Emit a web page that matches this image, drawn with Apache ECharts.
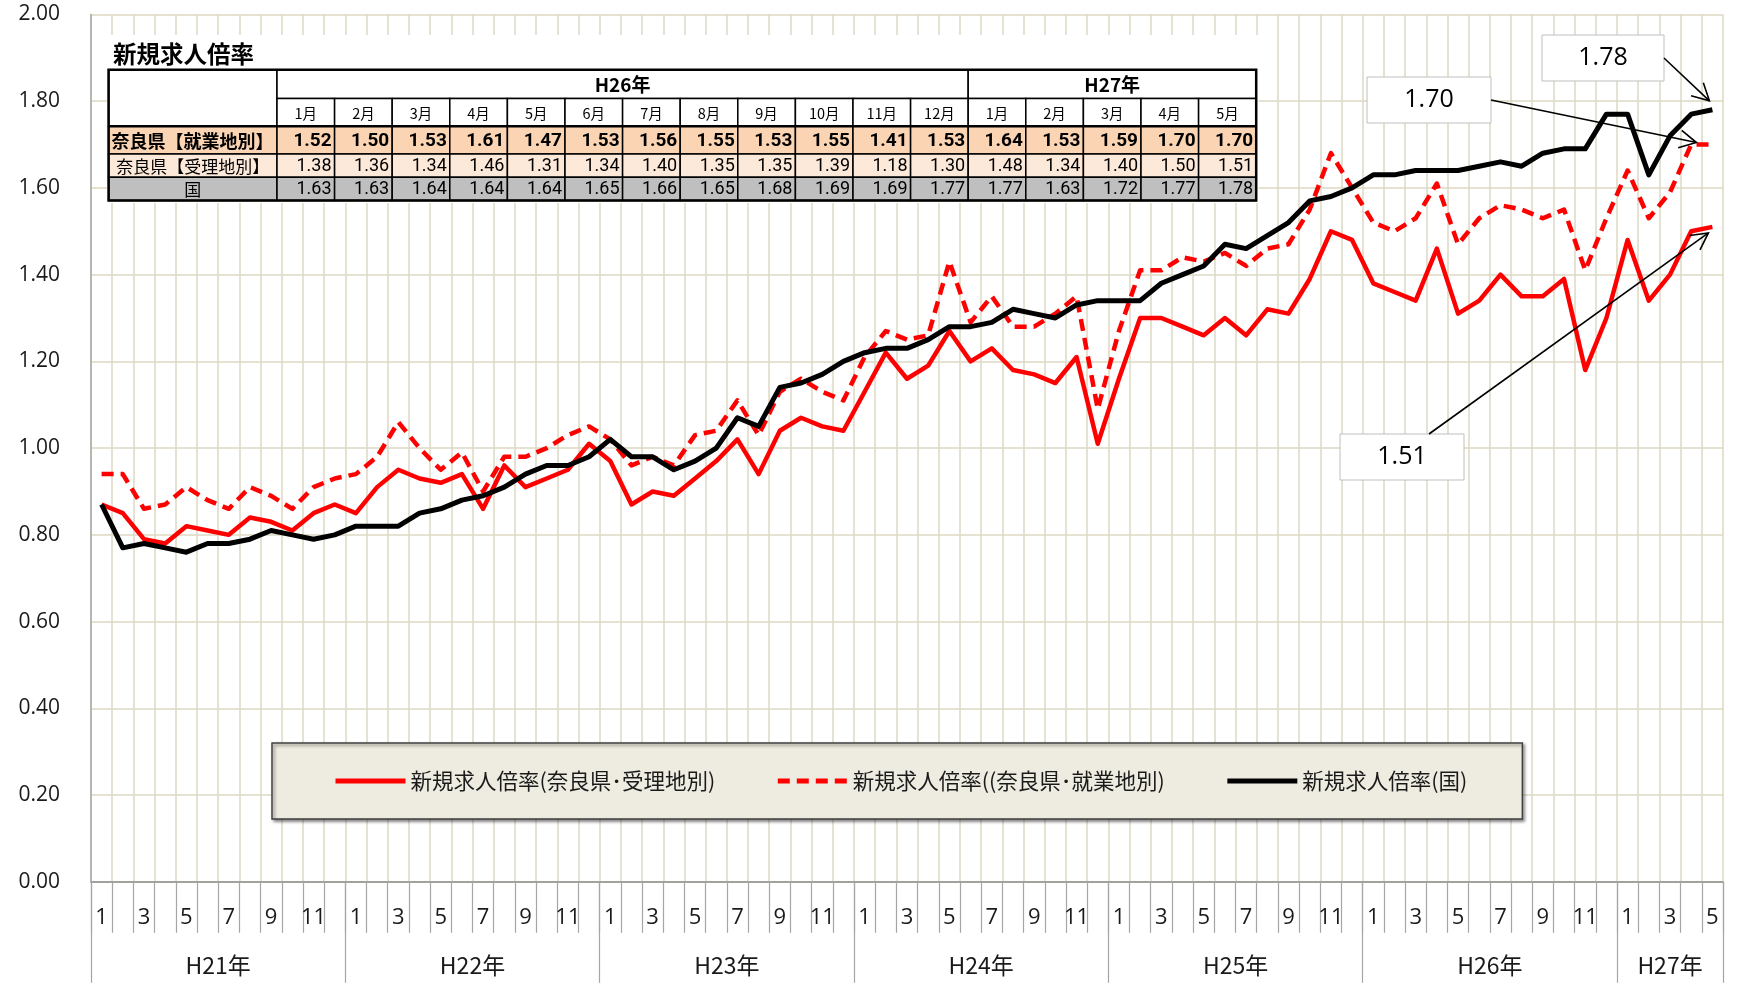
<!DOCTYPE html>
<html><head><meta charset="utf-8">
<script src="https://cdn.jsdelivr.net/npm/echarts@6/dist/echarts.min.js"></script>
<style>html,body{margin:0;padding:0;background:#fff}#c{width:1737px;height:983px}</style>
</head><body><div id="c"></div>
<script>
// ---------- DATA ----------
const years = ['H21年','H22年','H23年','H24年','H25年','H26年','H27年'];
const monthsPerYear = [12,12,12,12,12,12,5];
const seriesNames = ['新規求人倍率(奈良県･受理地別)','新規求人倍率((奈良県･就業地別)','新規求人倍率(国)'];
// 奈良県【受理地別】
const juriRate = [
  0.87,0.85,0.79,0.78,0.82,0.81,0.80,0.84,0.83,0.81,0.85,0.87,
  0.85,0.91,0.95,0.93,0.92,0.94,0.86,0.96,0.91,0.93,0.95,1.01,
  0.97,0.87,0.90,0.89,0.93,0.97,1.02,0.94,1.04,1.07,1.05,1.04,
  1.13,1.22,1.16,1.19,1.27,1.20,1.23,1.18,1.17,1.15,1.21,1.01,
  1.16,1.30,1.30,1.28,1.26,1.30,1.26,1.32,1.31,1.39,1.50,1.48,
  1.38,1.36,1.34,1.46,1.31,1.34,1.40,1.35,1.35,1.39,1.18,1.30,
  1.48,1.34,1.40,1.50,1.51];
// 奈良県【就業地別】
const shugyoRate = [
  0.94,0.94,0.86,0.87,0.91,0.88,0.86,0.91,0.89,0.86,0.91,0.93,
  0.94,0.98,1.06,1.00,0.95,0.99,0.90,0.98,0.98,1.00,1.03,1.05,
  1.02,0.96,0.98,0.96,1.03,1.04,1.11,1.03,1.13,1.16,1.13,1.11,
  1.21,1.27,1.25,1.26,1.43,1.29,1.35,1.28,1.28,1.31,1.35,1.09,
  1.27,1.41,1.41,1.44,1.43,1.45,1.42,1.46,1.47,1.55,1.68,1.60,
  1.52,1.50,1.53,1.61,1.47,1.53,1.56,1.55,1.53,1.55,1.41,1.53,
  1.64,1.53,1.59,1.70,1.70];
// 国
const kuniRate = [
  0.87,0.77,0.78,0.77,0.76,0.78,0.78,0.79,0.81,0.80,0.79,0.80,
  0.82,0.82,0.82,0.85,0.86,0.88,0.89,0.91,0.94,0.96,0.96,0.98,
  1.02,0.98,0.98,0.95,0.97,1.00,1.07,1.05,1.14,1.15,1.17,1.20,
  1.22,1.23,1.23,1.25,1.28,1.28,1.29,1.32,1.31,1.30,1.33,1.34,
  1.34,1.34,1.38,1.40,1.42,1.47,1.46,1.49,1.52,1.57,1.58,1.60,
  1.63,1.63,1.64,1.64,1.64,1.65,1.66,1.65,1.68,1.69,1.69,1.77,
  1.77,1.63,1.72,1.77,1.78];
const yTicks = [0,0.2,0.4,0.6,0.8,1.0,1.2,1.4,1.6,1.8,2.0];
// table
const tableTitle = '新規求人倍率';
const tableYears = ['H26年','H27年'];
const tableYearSpan = [12,5];
const tableMonths = ['1月','2月','3月','4月','5月','6月','7月','8月','9月','10月','11月','12月','1月','2月','3月','4月','5月'];
const rowLabels = ['奈良県【就業地別】','奈良県【受理地別】','国'];

// ---------- derived ----------
const categories = [], catMonth = [], catYear = [];
const yearStarts = [], yearLabelIdx = [], yearEven = {};
let idx = 0;
years.forEach((y, k) => {
  const n = monthsPerYear[k];
  yearStarts.push(idx);
  const li = idx + (n % 2 === 0 ? n / 2 - 1 : (n - 1) / 2);
  yearLabelIdx.push(li); yearEven[li] = (n % 2 === 0);
  for (let m = 1; m <= n; m++) { categories.push(y + m + '月'); catMonth.push(m); catYear.push(y); idx++; }
});
const NCAT = categories.length;

const FONT_NUM = "'Open Sans','Noto Sans',sans-serif";
const FONT_JP = "'Noto Sans CJK JP','Noto Sans',sans-serif";
const FONT_TBL = "'Liberation Sans Narrow','Roboto','Noto Sans',sans-serif";
const GRIDC = '#DDD9C3';

const chart = echarts.init(document.getElementById('c'), null, {renderer: 'canvas'});
const option = {
  animation: false,
  backgroundColor: '#ffffff',
  grid: {left: 91, right: 14, top: 14.4, bottom: 101.2, containLabel: false},
  xAxis: [{
    type: 'category', data: categories, boundaryGap: true,
    axisLine: {show: true, lineStyle: {color: '#8C8C8C', width: 1.5}},
    axisTick: {show: true, interval: 0, length: 51, lineStyle: {color: '#A6A6A6', width: 1.2}},
    axisLabel: {interval: 1, formatter: (v, i) => String(catMonth[i]), fontSize: 22, fontFamily: FONT_NUM, color: '#1a1a1a', margin: 25},
    splitLine: {show: true, interval: 0, lineStyle: {color: GRIDC, width: 1.5}}
  }, {
    type: 'category', data: categories, boundaryGap: true, position: 'bottom', gridIndex: 0,
    axisLine: {show: false},
    axisTick: {show: true, interval: (i) => yearStarts.indexOf(i) >= 0, length: 101, lineStyle: {color: '#A6A6A6', width: 1.2}},
    axisLabel: {
      interval: (i) => yearLabelIdx.indexOf(i) >= 0,
      formatter: (v, i) => (yearEven[i] ? '{f|' : '{p|') + catYear[i] + '}',
      margin: 72,
      rich: {
        f: {fontSize: 23, fontFamily: FONT_JP, color: '#1a1a1a', padding: [0, 0, 0, 21.2]},
        p: {fontSize: 23, fontFamily: FONT_JP, color: '#1a1a1a'}
      }
    },
    splitLine: {show: false}
  }],
  yAxis: {
    type: 'value', min: yTicks[0], max: yTicks[yTicks.length - 1], interval: 0.2,
    axisLine: {show: true, lineStyle: {color: '#A6A6A6', width: 1.5}},
    axisTick: {show: false},
    axisLabel: {formatter: v => v.toFixed(2), fontSize: 21, fontFamily: FONT_NUM, color: '#1a1a1a', margin: 31},
    splitLine: {show: true, lineStyle: {color: GRIDC, width: 1.5}}
  },
  legend: {
    left: 272, top: 743, orient: 'horizontal',
    padding: [27, 55, 27, 61], itemGap: 60, itemWidth: 70, itemHeight: 6,
    backgroundColor: '#EEECE1', borderColor: '#404040', borderWidth: 1.5,
    shadowColor: 'rgba(0,0,0,0.45)', shadowBlur: 3, shadowOffsetX: 2, shadowOffsetY: 2,
    lineStyle: {width: 5},
    itemStyle: {opacity: 0},
    textStyle: {fontSize: 21.5, fontFamily: FONT_JP, color: '#1a1a1a', lineHeight: 22},
    data: seriesNames
  },
  series: [{
    name: seriesNames[0], type: 'line', data: juriRate, symbol: 'none', z: 2,
    lineStyle: {color: '#FF0000', width: 4.5, join: 'round'}, itemStyle: {color: '#FF0000'}
  }, {
    name: seriesNames[1], type: 'line', data: shugyoRate, symbol: 'none', z: 3,
    lineStyle: {color: '#FF0000', width: 4.5, type: [12, 7], join: 'round'}, itemStyle: {color: '#FF0000'}
  }, {
    name: seriesNames[2], type: 'line', data: kuniRate, symbol: 'none', z: 4,
    lineStyle: {color: '#000000', width: 5, join: 'round'}, itemStyle: {color: '#000000'}
  }]
};
chart.setOption(option);

// ---------- table + annotations (graphic) ----------
const g = [];
function rect(x, y, w, h, fill, stroke, lw, z) {
  g.push({type: 'rect', silent: true, z: z || 100, shape: {x: x, y: y, width: w, height: h},
    style: {fill: fill, stroke: stroke || null, lineWidth: lw || 0}});
}
function text(x, y, t, font, align, z) {
  g.push({type: 'text', silent: true, z: z || 102, x: x, y: y,
    style: {text: t, font: font, fill: '#000', align: align || 'center', verticalAlign: 'middle',
      textAlign: align || 'center', textVerticalAlign: 'middle'}});
}
const TX = 108.6, TY = 69.8, C0 = 168.4, CW = 57.6;
const RH = [28.8, 27.7, 27.7, 23.3, 23.2];
const rowY = [TY]; RH.forEach((h, i) => rowY.push(rowY[i] + h));
const TW = C0 + CW * tableMonths.length;
rect(107, 35, TW + 4, rowY[5] - 35 + 2.5, '#ffffff', null, 0, 99);
text(113, 54.5, tableTitle, 'bold 23.5px ' + FONT_JP, 'left');
// header
rect(TX, rowY[0], C0, RH[0] + RH[1], '#ffffff', '#000', 1.5);
let cx = TX + C0;
tableYears.forEach((y, k) => {
  const w = tableYearSpan[k] * CW;
  rect(cx, rowY[0], w, RH[0], '#ffffff', '#000', 1.5);
  text(cx + w / 2, rowY[0] + RH[0] / 2 + 1, y, 'bold 19px ' + FONT_JP);
  cx += w;
});
tableMonths.forEach((m, k) => {
  const x = TX + C0 + k * CW;
  rect(x, rowY[1], CW, RH[1], '#ffffff', '#000', 1.5);
  text(x + CW / 2, rowY[1] + RH[1] / 2 + 1, m, '14.5px ' + FONT_JP);
});
const tailN = tableMonths.length;
const rows = [
  {vals: shugyoRate.slice(-tailN), fill: '#FBD4B4', lf: 'bold 18px ' + FONT_JP, vf: 'bold 19px ' + FONT_TBL, la: 'left'},
  {vals: juriRate.slice(-tailN), fill: '#FDE9D9', lf: '17px ' + FONT_JP, vf: '18px ' + FONT_TBL, la: 'center'},
  {vals: kuniRate.slice(-tailN), fill: '#BFBFBF', lf: '17px ' + FONT_JP, vf: '18px ' + FONT_TBL, la: 'center'}
];
rows.forEach((r, ri) => {
  const y = rowY[2 + ri], h = RH[2 + ri];
  rect(TX, y, C0, h, r.fill, '#000', 1.5);
  text(r.la === 'left' ? TX + 3 : TX + C0 / 2, y + h / 2 + 1, rowLabels[ri], r.lf, r.la);
  r.vals.forEach((v, k) => {
    const x = TX + C0 + k * CW;
    rect(x, y, CW, h, r.fill, '#000', 1.5);
    text(x + CW - 3, y + h / 2 + 1, v.toFixed(2), r.vf, 'right');
  });
});
rect(TX, rowY[0], TW, rowY[5] - rowY[0], null, '#000', 2.5, 101);
g.push({type: 'line', silent: true, z: 101, shape: {x1: TX, y1: rowY[2], x2: TX + TW, y2: rowY[2]}, style: {stroke: '#000', lineWidth: 2.5}});

// callouts
const last = NCAT - 1;
const callouts = [
  {si: 2, arr: kuniRate,   box: [1542, 35, 122, 46],  from: [1664, 58],  off: [-3, -9]},
  {si: 1, arr: shugyoRate, box: [1367, 77, 124, 46],  from: [1491, 100], off: [-16, -2]},
  {si: 0, arr: juriRate,   box: [1340, 434, 124, 46], from: [1429, 434], off: [-4, 6]}
];
callouts.forEach(c => {
  const p = chart.convertToPixel({seriesIndex: c.si}, [last, c.arr[last]]);
  const tip = [p[0] + c.off[0], p[1] + c.off[1]];
  rect(c.box[0], c.box[1], c.box[2], c.box[3], '#ffffff', '#BFBFBF', 1, 110);
  text(c.box[0] + c.box[2] / 2, c.box[1] + c.box[3] / 2, c.arr[last].toFixed(2), '25px ' + FONT_NUM, 'center', 112);
  g.push({type: 'line', silent: true, z: 111, shape: {x1: c.from[0], y1: c.from[1], x2: tip[0], y2: tip[1]},
    style: {stroke: '#000', lineWidth: 1.6}});
  const dx = tip[0] - c.from[0], dy = tip[1] - c.from[1], L = Math.hypot(dx, dy);
  const ux = dx / L, uy = dy / L, a = 28 * Math.PI / 180, len = 19;
  const arm = s => [tip[0] - len * (ux * Math.cos(a) - s * uy * Math.sin(a)), tip[1] - len * (uy * Math.cos(a) + s * ux * Math.sin(a))];
  g.push({type: 'polyline', silent: true, z: 111, shape: {points: [arm(1), tip, arm(-1)]},
    style: {stroke: '#000', lineWidth: 1.6, fill: null}});
});
chart.setOption({graphic: g});
</script></body></html>
